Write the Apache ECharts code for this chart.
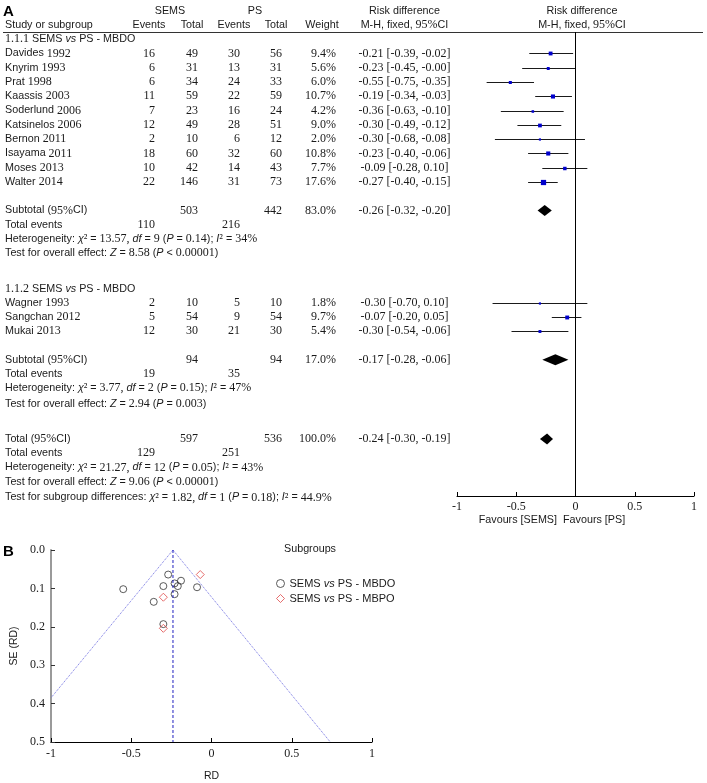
<!DOCTYPE html>
<html><head><meta charset="utf-8">
<script src="https://cdn.jsdelivr.net/npm/echarts@6/dist/echarts.min.js"></script>
<style>html,body{margin:0;padding:0;background:#fff}#c{width:707px;height:783px}</style>
</head><body><div id="c"></div>
<script>
// ---------- DATA ----------
const studyNames = ['Davides 1992','Knyrim 1993','Prat 1998','Kaassis 2003','Soderlund 2006','Katsinelos 2006','Bernon 2011','Isayama 2011','Moses 2013','Walter 2014','Wagner 1993','Sangchan 2012','Mukai 2013'];
const studyGroup = [1,1,1,1,1,1,1,1,1,1,2,2,2];
const semsEvents = [16,6,6,11,7,12,2,18,10,22,2,5,12];
const semsTotal  = [49,31,34,59,23,49,10,60,42,146,10,54,30];
const psEvents   = [30,13,24,22,16,28,6,32,14,31,5,9,21];
const psTotal    = [56,31,33,59,24,51,12,60,43,73,10,54,30];
const weights    = [9.4,5.6,6.0,10.7,4.2,9.0,2.0,10.8,7.7,17.6,1.8,9.7,5.4];
const riskDiff   = [-0.21,-0.23,-0.55,-0.19,-0.36,-0.30,-0.30,-0.23,-0.09,-0.27,-0.30,-0.07,-0.30];
const ciLower    = [-0.39,-0.45,-0.75,-0.34,-0.63,-0.49,-0.68,-0.40,-0.28,-0.40,-0.70,-0.20,-0.54];
const ciUpper    = [-0.02,-0.00,-0.35,-0.03,-0.10,-0.12,0.08,-0.06,0.10,-0.15,0.10,0.05,-0.06];
const ciLabels   = ['-0.21 [-0.39, -0.02]','-0.23 [-0.45, -0.00]','-0.55 [-0.75, -0.35]','-0.19 [-0.34, -0.03]','-0.36 [-0.63, -0.10]','-0.30 [-0.49, -0.12]','-0.30 [-0.68, -0.08]','-0.23 [-0.40, -0.06]','-0.09 [-0.28, 0.10]','-0.27 [-0.40, -0.15]','-0.30 [-0.70, 0.10]','-0.07 [-0.20, 0.05]','-0.30 [-0.54, -0.06]'];
const sectionNames = ['1.1.1 SEMS _vs_ PS - MBDO','1.1.2 SEMS _vs_ PS - MBDO'];
const poolNames      = ['Subtotal (95%CI)','Subtotal (95%CI)','Total (95%CI)'];
const poolSemsTotal  = [503,94,597];
const poolPsTotal    = [442,94,536];
const poolSemsEvents = [110,19,129];
const poolPsEvents   = [216,35,251];
const poolWeight     = ['83.0%','17.0%','100.0%'];
const poolRD         = [-0.26,-0.17,-0.24];
const poolLower      = [-0.32,-0.28,-0.30];
const poolUpper      = [-0.20,-0.06,-0.19];
const poolLabels     = ['-0.26 [-0.32, -0.20]','-0.17 [-0.28, -0.06]','-0.24 [-0.30, -0.19]'];
const heterogeneityTexts = ['Heterogeneity: _χ_² = 13.57, _df_ = 9 (_P_ = 0.14); _I_² = 34%','Heterogeneity: _χ_² = 3.77, _df_ = 2 (_P_ = 0.15); _I_² = 47%','Heterogeneity: _χ_² = 21.27, _df_ = 12 (_P_ = 0.05); _I_² = 43%'];
const effectTexts = ['Test for overall effect: _Z_ = 8.58 (_P_ < 0.00001)','Test for overall effect: _Z_ = 2.94 (_P_ = 0.003)','Test for overall effect: _Z_ = 9.06 (_P_ < 0.00001)'];
const subgroupText = 'Test for subgroup differences: _χ_² = 1.82, _df_ = 1 (_P_ = 0.18); _I_² = 44.9%';
const forestTickLabels = ['-1','-0.5','0','0.5','1'];
// funnel plot
const funnelSE = [0.094,0.115,0.102,0.080,0.135,0.094,0.193,0.087,0.097,0.064,0.204,0.064,0.123];
const funnelLeft   = [[-0.24,0],[-1,0.385]];
const funnelRight  = [[-0.24,0],[0.74,0.5]];
const funnelCenter = [[-0.24,0],[-0.24,0.5]];
const legendNames = ['SEMS vs PS - MBDO','SEMS vs PS - MBPO'];

// ---------- LAYOUT ----------
const SANS = '"Liberation Sans", Arial, sans-serif';
const SERIF = '"Liberation Serif", "Times New Roman", serif';
const INK = '#1a1a1a';
const ROWS = {
  head1: -2, head2: -1,
  section: [0, 17.5],
  study: [1,2,3,4,5,6,7,8,9,10,18.45,19.45,20.45],
  pool: [12,22.45,28], events: [13,23.45,29], het: [14,24.45,30], eff: [15,25.55,31], sub: 32.1
};
const COL = {name:5, semsEv:155, semsTot:198, psEv:240, psTot:282, weight:336, ci:404.5, plot:582};

const chart = echarts.init(document.getElementById('c'), null, {renderer:'canvas'});

function diamondItem(params, api){
  const y = api.value(3);
  const l = api.coord([api.value(1), y]);
  const c = api.coord([api.value(0), y]);
  const r = api.coord([api.value(2), y]);
  const h = 5.5;
  return {type:'polygon', shape:{points:[[l[0],c[1]],[c[0],c[1]-h],[r[0],c[1]],[c[0],c[1]+h]]}, style:{fill:'#000'}};
}
function studyItem(params, api){
  const y = api.value(3);
  const a = api.coord([api.value(1), y]);
  const b = api.coord([api.value(2), y]);
  const c = api.coord([api.value(0), y]);
  const s = Math.max(2.2, 1.25*Math.sqrt(api.value(4)));
  const ly = Math.round(c[1]) + 0.5;
  return {type:'group', children:[
    {type:'line', shape:{x1:a[0], y1:ly, x2:b[0], y2:ly}, style:{stroke:'#1a1a1a', lineWidth:1}},
    {type:'rect', shape:{x:c[0]-s/2, y:ly-s/2, width:s, height:s}, style:{fill:'#0000cc'}}
  ]};
}

const option = {
  animation:false,
  backgroundColor:'#fff',
  grid:[
    {left:457, top:32, width:237, height:464},
    {left:51, top:550, width:321, height:194}
  ],
  xAxis:[
    {gridIndex:0, type:'value', min:-1, max:1, interval:0.5,
     axisLine:{onZero:false, lineStyle:{color:'#000', width:1}},
     axisTick:{inside:true, length:4, lineStyle:{color:'#000'}},
     axisLabel:{margin:5, fontFamily:SERIF, fontSize:12, color:INK, formatter:(v)=>forestTickLabels[Math.round((v+1)/0.5)]},
     splitLine:{show:false}},
    {gridIndex:1, type:'value', min:-1, max:1, interval:0.5,
     name:'RD', nameLocation:'middle', nameGap:29, nameTextStyle:{fontFamily:SANS, fontSize:10.5, color:INK},
     axisLine:{onZero:false, lineStyle:{color:'#000', width:1}},
     axisTick:{inside:true, length:4, lineStyle:{color:'#000'}},
     axisLabel:{margin:6, fontFamily:SERIF, fontSize:12, color:INK, formatter:(v)=>forestTickLabels[Math.round((v+1)/0.5)]},
     splitLine:{show:false}}
  ],
  yAxis:[
    {gridIndex:0, type:'value', inverse:true, min:-0.5, max:32, show:false, axisLine:{onZero:false}, splitLine:{show:false}},
    {gridIndex:1, type:'value', inverse:true, min:0, max:0.5, interval:0.1,
     name:'SE (RD)', nameLocation:'middle', nameGap:31, nameRotate:90, nameTextStyle:{fontFamily:SANS, fontSize:10.5, color:INK},
     axisLine:{onZero:false, lineStyle:{color:'#9a9a9a', width:2}},
     axisTick:{inside:true, length:4, lineStyle:{color:'#333'}},
     axisLabel:{margin:6, fontFamily:SERIF, fontSize:12, color:INK, formatter:(v)=>v.toFixed(1)},
     splitLine:{show:false}}
  ],
  legend:{
    orient:'vertical', left:271, top:573, itemWidth:8, itemHeight:8, itemGap:4,
    textStyle:{fontFamily:SANS, fontSize:11, color:INK,
      rich:{s:{fontFamily:SANS, fontSize:11, color:INK}, i:{fontFamily:SANS, fontSize:11, fontStyle:'italic', color:INK}}},
    formatter:(n)=>{const p=n.split(' vs '); return '{s|'+p[0]+' }{i|vs}{s| '+p[1]+'}';},
    data:[
      {name:legendNames[0], icon:'circle', itemStyle:{color:'rgba(0,0,0,0)', borderColor:'#333', borderWidth:1}},
      {name:legendNames[1], icon:'diamond', itemStyle:{color:'rgba(0,0,0,0)', borderColor:'#e04848', borderWidth:1}}
    ]
  },
  series:[
    {type:'custom', name:'studies', xAxisIndex:0, yAxisIndex:0, renderItem:studyItem,
     encode:{x:[0,1,2], y:3},
     data: riskDiff.map((v,i)=>[v, ciLower[i], ciUpper[i], ROWS.study[i], weights[i]]),
     markLine:{silent:true, symbol:'none', label:{show:false}, lineStyle:{color:'#000', width:1, type:'solid'}, data:[{xAxis:0}]}},
    {type:'custom', name:'pooled', xAxisIndex:0, yAxisIndex:0, renderItem:diamondItem,
     encode:{x:[0,1,2], y:3},
     data: poolRD.map((v,i)=>[v, poolLower[i], poolUpper[i], ROWS.pool[i]])},
    {type:'line', xAxisIndex:1, yAxisIndex:1, data:funnelLeft, showSymbol:false, silent:true,
     lineStyle:{color:'#7070e0', width:1, type:'dotted'}},
    {type:'line', xAxisIndex:1, yAxisIndex:1, data:funnelRight, showSymbol:false, silent:true,
     lineStyle:{color:'#7070e0', width:1, type:'dotted'}},
    {type:'line', xAxisIndex:1, yAxisIndex:1, data:funnelCenter, showSymbol:false, silent:true,
     lineStyle:{color:'#2020c0', width:1, type:[3,2]}},
    {type:'scatter', name:legendNames[0], xAxisIndex:1, yAxisIndex:1, symbol:'circle', symbolSize:7,
     itemStyle:{color:'rgba(0,0,0,0)', borderColor:'#333', borderWidth:1},
     data: riskDiff.map((v,i)=>[v, funnelSE[i]]).filter((d,i)=>studyGroup[i]===1)},
    {type:'scatter', name:legendNames[1], xAxisIndex:1, yAxisIndex:1, symbol:'diamond', symbolSize:8,
     itemStyle:{color:'rgba(0,0,0,0)', borderColor:'#e04848', borderWidth:1},
     data: riskDiff.map((v,i)=>[v, funnelSE[i]]).filter((d,i)=>studyGroup[i]===2)}
  ]
};
chart.setOption(option);

// ---------- TABLE TEXT (rows positioned via forest y-axis) ----------
const RICH = {
  s:{fontFamily:SANS, fontSize:10.75, fill:INK},
  n:{fontFamily:SERIF, fontSize:12, fill:INK},
  i:{fontFamily:SANS, fontSize:10.75, fontStyle:'italic', fill:INK},
  b:{fontFamily:SANS, fontSize:15, fontWeight:'bold', fill:'#000'}
};
function rt(str){
  return String(str).split(/(_[^_]+_)/).filter(Boolean).map(seg=>{
    if (seg.length>2 && seg[0]==='_' && seg[seg.length-1]==='_') return '{i|'+seg.slice(1,-1)+'}';
    return seg.split(/([\d²][\d.,%²]*)/).filter(Boolean).map(t=>/^[\d²]/.test(t)?'{n|'+t+'}':'{s|'+t+'}').join('');
  }).join('');
}
function serif(str){ return '{n|'+str+'}'; }
const py = (r)=>chart.convertToPixel({yAxisIndex:0}, r);
const G = [];
function T(x, row, text, align, yOverride){
  G.push({type:'text', x:x, y:(yOverride!==undefined?yOverride:py(row)), silent:true,
    style:{text:text, align:align||'left', verticalAlign:'middle', rich:RICH}});
}
// headers
T(3, null, '{b|A}', 'left', 12);
T(170, ROWS.head1, rt('SEMS'), 'center');
T(255, ROWS.head1, rt('PS'), 'center');
T(COL.ci, ROWS.head1, rt('Risk difference'), 'center');
T(COL.plot, ROWS.head1, rt('Risk difference'), 'center');
T(COL.name, ROWS.head2, rt('Study or subgroup'));
T(149, ROWS.head2, rt('Events'), 'center');
T(192, ROWS.head2, rt('Total'), 'center');
T(234, ROWS.head2, rt('Events'), 'center');
T(276, ROWS.head2, rt('Total'), 'center');
T(322, ROWS.head2, rt('Weight'), 'center');
T(COL.ci, ROWS.head2, rt('M-H, fixed, 95%CI'), 'center');
T(COL.plot, ROWS.head2, rt('M-H, fixed, 95%CI'), 'center');
G.push({type:'line', silent:true, shape:{x1:3, y1:32.5, x2:703, y2:32.5}, style:{stroke:'#333', lineWidth:1}});
// sections
sectionNames.forEach((s,i)=>T(COL.name, ROWS.section[i], rt(s)));
// studies
studyNames.forEach((n,i)=>{
  const r = ROWS.study[i];
  T(COL.name, r, rt(n));
  T(COL.semsEv, r, serif(semsEvents[i]), 'right');
  T(COL.semsTot, r, serif(semsTotal[i]), 'right');
  T(COL.psEv, r, serif(psEvents[i]), 'right');
  T(COL.psTot, r, serif(psTotal[i]), 'right');
  T(COL.weight, r, serif(weights[i].toFixed(1)+'%'), 'right');
  T(COL.ci, r, serif(ciLabels[i]), 'center');
});
// pooled rows
poolNames.forEach((n,i)=>{
  T(COL.name, ROWS.pool[i], rt(n));
  T(COL.semsTot, ROWS.pool[i], serif(poolSemsTotal[i]), 'right');
  T(COL.psTot, ROWS.pool[i], serif(poolPsTotal[i]), 'right');
  T(COL.weight, ROWS.pool[i], serif(poolWeight[i]), 'right');
  T(COL.ci, ROWS.pool[i], serif(poolLabels[i]), 'center');
  T(COL.name, ROWS.events[i], rt('Total events'));
  T(COL.semsEv, ROWS.events[i], serif(poolSemsEvents[i]), 'right');
  T(COL.psEv, ROWS.events[i], serif(poolPsEvents[i]), 'right');
  T(COL.name, ROWS.het[i], rt(heterogeneityTexts[i]));
  T(COL.name, ROWS.eff[i], rt(effectTexts[i]));
});
T(COL.name, ROWS.sub, rt(subgroupText));
// favours labels under forest axis
T(557, null, rt('Favours [SEMS]'), 'right', 520);
T(563, null, rt('Favours [PS]'), 'left', 520);
// panel B
T(3, null, '{b|B}', 'left', 552);
T(284, null, rt('Subgroups'), 'left', 549);

chart.setOption({graphic:G});
</script>
</body></html>
